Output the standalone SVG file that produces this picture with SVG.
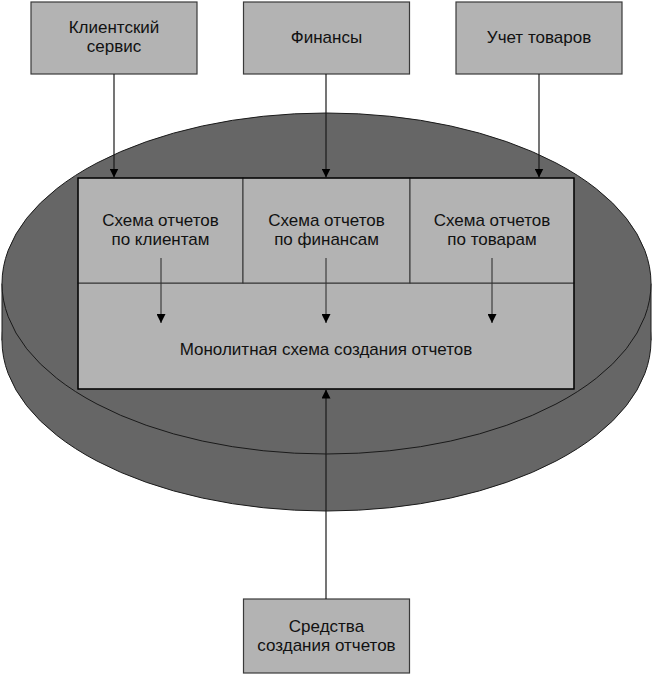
<svg xmlns="http://www.w3.org/2000/svg" width="653" height="675" viewBox="0 0 653 675">
<defs>
<style>
.box{fill:#b3b3b3;stroke:#3a3a3a;stroke-width:1.2}
.panel{fill:#b3b3b3;stroke:#333;stroke-width:1}
.t{font-family:"Liberation Sans",Arial,sans-serif;font-size:17px;fill:#111;text-anchor:middle}
.cyl{fill:#666;stroke:#1a1a1a;stroke-width:1}
.c{stroke:#1a1a1a;stroke-width:1.2;fill:none;marker-end:url(#arr)}
.ci{stroke:#333;stroke-width:1.1;fill:none;marker-end:url(#arr)}
</style>
<marker id="arr" viewBox="0 0 10 10" refX="10" refY="5" markerWidth="9" markerHeight="9" orient="auto" markerUnits="userSpaceOnUse">
<path d="M0,0 L10,5 L0,10 z" fill="#000"/>
</marker>
</defs>
<rect width="653" height="675" fill="#fff"/>

<g id="storage">
<ellipse class="cyl" cx="326.5" cy="340.5" rx="324.5" ry="170.5"/>
<rect x="2" y="283.5" width="649" height="57" fill="#666"/>
<line x1="2" y1="283.5" x2="2" y2="340.5" stroke="#1a1a1a" stroke-width="1"/>
<line x1="651" y1="283.5" x2="651" y2="340.5" stroke="#1a1a1a" stroke-width="1"/>
<ellipse class="cyl" cx="326.5" cy="283.5" rx="324.5" ry="170.5"/>
</g>

<g id="client-service">
<rect class="box" x="31" y="2" width="166" height="72"/>
<text class="t" x="114" y="33">Клиентский</text>
<text class="t" x="114" y="52">сервис</text>
</g>
<g id="finance">
<rect class="box" x="243.5" y="2" width="166" height="72"/>
<text class="t" x="326.5" y="43">Финансы</text>
</g>
<g id="goods">
<rect class="box" x="456" y="2" width="166" height="72"/>
<text class="t" x="539" y="43">Учет товаров</text>
</g>

<g id="monolith">
<rect class="panel" x="78" y="283" width="496" height="106"/>
<text class="t" x="326" y="355">Монолитная схема создания отчетов</text>
</g>
<g id="schema-clients">
<rect class="panel" x="78" y="178" width="165" height="105"/>
<text class="t" x="160.5" y="226">Схема отчетов</text>
<text class="t" x="160.5" y="245">по клиентам</text>
</g>
<g id="schema-finance">
<rect class="panel" x="243" y="178" width="167" height="105"/>
<text class="t" x="326.5" y="226">Схема отчетов</text>
<text class="t" x="326.5" y="245">по финансам</text>
</g>
<g id="schema-goods">
<rect class="panel" x="410" y="178" width="164" height="105"/>
<text class="t" x="492" y="226">Схема отчетов</text>
<text class="t" x="492" y="245">по товарам</text>
</g>
<rect x="78" y="178" width="496" height="211" fill="none" stroke="#000" stroke-width="1.3"/>

<g id="reporting-tools">
<rect class="box" x="243.5" y="599" width="166" height="74"/>
<text class="t" x="326.5" y="632">Средства</text>
<text class="t" x="326.5" y="651">создания отчетов</text>
</g>

<g id="connectors">
<line class="c" x1="114" y1="74" x2="114" y2="177.5"/>
<line class="c" x1="326" y1="74" x2="326" y2="177.5"/>
<line class="c" x1="539" y1="74" x2="539" y2="177.5"/>
<line class="ci" x1="161" y1="258" x2="161" y2="323"/>
<line class="ci" x1="326" y1="258" x2="326" y2="323"/>
<line class="ci" x1="492" y1="258" x2="492" y2="323"/>
<line class="c" x1="326" y1="599" x2="326" y2="389.5"/>
</g>
</svg>
